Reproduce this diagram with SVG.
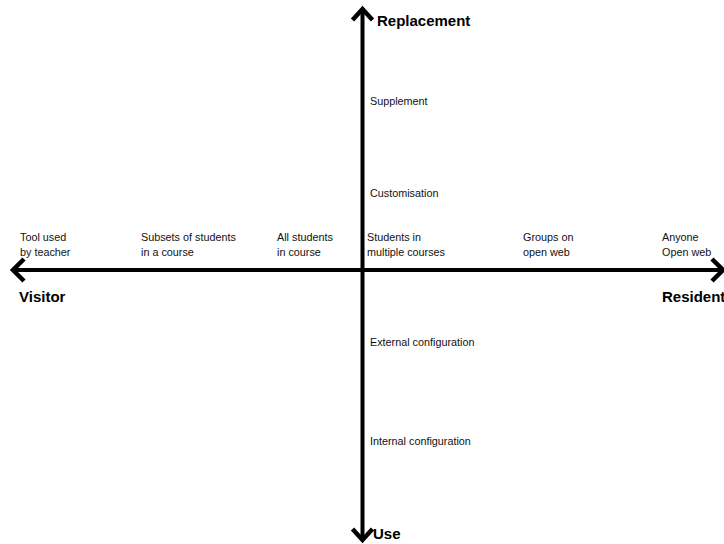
<svg xmlns="http://www.w3.org/2000/svg" width="724" height="544" viewBox="0 0 724 544">
<style>
.ax{stroke:#000;stroke-width:4;fill:none}
.hd{stroke:#000;stroke-width:4.5;fill:none;stroke-linecap:butt;stroke-linejoin:miter}
.t{font-family:"Liberation Sans",Arial,sans-serif;font-size:10.8px;fill:#111}
.b{font-family:"Liberation Sans",Arial,sans-serif;font-size:15px;font-weight:bold;fill:#000}
</style>
<rect width="724" height="544" fill="#fff"/>
<g id="connectors">
<line class="ax" x1="14" y1="270" x2="722" y2="270"/>
<line class="ax" x1="362.5" y1="10" x2="362.5" y2="538"/>
<path class="hd" d="M24,259 L13,270 L24,281"/>
<path class="hd" d="M712,259 L723,270 L712,281"/>
<path class="hd" d="M352.5,20 L362.5,9 L372.5,20"/>
<path class="hd" d="M352.5,529 L362.5,540 L372.5,529"/>
</g>
<g id="axis-labels">
<text class="b" x="377" y="26">Replacement</text>
<text class="b" x="373" y="539">Use</text>
<text class="b" x="19" y="302">Visitor</text>
<text class="b" x="662" y="302">Resident</text>
</g>
<g id="node-tool"><text class="t" x="20" y="241">Tool used</text><text class="t" x="20" y="256">by teacher</text></g>
<g id="node-subsets"><text class="t" x="141" y="241">Subsets of students</text><text class="t" x="141" y="256">in a course</text></g>
<g id="node-all"><text class="t" x="277" y="241">All students</text><text class="t" x="277" y="256">in course</text></g>
<g id="node-multiple"><text class="t" x="367" y="241">Students in</text><text class="t" x="367" y="256">multiple courses</text></g>
<g id="node-groups"><text class="t" x="523" y="241">Groups on</text><text class="t" x="523" y="256">open web</text></g>
<g id="node-anyone"><text class="t" x="662" y="241">Anyone</text><text class="t" x="662" y="256">Open web</text></g>
<g id="node-supplement"><text class="t" x="370" y="105">Supplement</text></g>
<g id="node-customisation"><text class="t" x="370" y="197">Customisation</text></g>
<g id="node-external"><text class="t" x="370" y="346">External configuration</text></g>
<g id="node-internal"><text class="t" x="370" y="445">Internal configuration</text></g>
</svg>
